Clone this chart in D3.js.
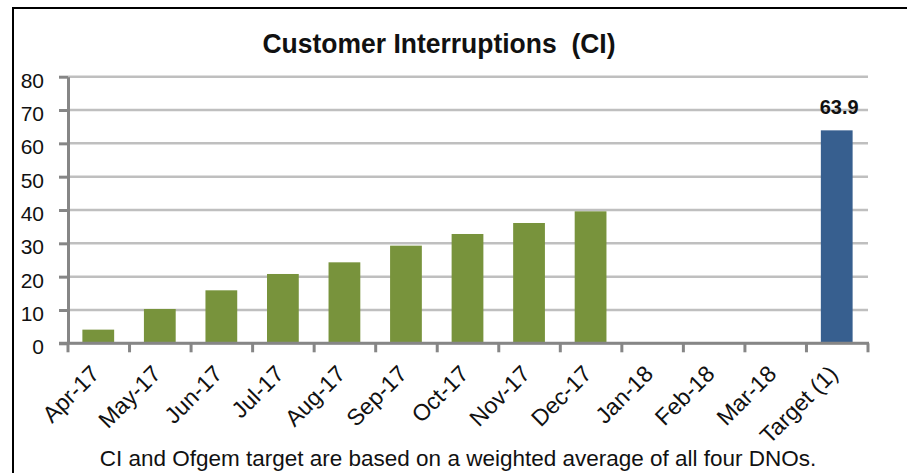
<!DOCTYPE html>
<html>
<head>
<meta charset="utf-8">
<script src="https://cdn.jsdelivr.net/npm/d3@7"></script>
<style>
  body { margin: 0; background: #fff; }
  text { font-family: "Liberation Sans", Arial, sans-serif; fill: #111; }
</style>
</head>
<body>
<svg width="907" height="473"></svg>
<script>
var months = ["Apr-17", "May-17", "Jun-17", "Jul-17", "Aug-17", "Sep-17", "Oct-17",
              "Nov-17", "Dec-17", "Jan-18", "Feb-18", "Mar-18", "Target (1)"];
var values = [4.1, 10.3, 15.9, 20.8, 24.3, 29.3, 32.8, 36.1, 39.6, null, null, null, 63.9];
var yTicks = [0, 10, 20, 30, 40, 50, 60, 70, 80];
var targetName = "Target (1)";

var svg = d3.select("svg"),
    width = +svg.attr("width"),
    height = +svg.attr("height");

var data = months.map(function(m, i) { return { month: m, value: values[i] }; });

var x = d3.scaleBand()
    .domain(months)
    .range([68, 868])
    .paddingInner(0.5)
    .paddingOuter(0.25);

var y = d3.scaleLinear()
    .domain([0, 80])
    .range([343.3, 76.7]);

// outer frame (only top and left edges are visible)
svg.append("path")
    .attr("d", "M13,473V8H907")
    .attr("fill", "none")
    .attr("stroke", "#000")
    .attr("stroke-width", 2);

// title
svg.append("text")
    .attr("x", 439)
    .attr("y", 53)
    .attr("text-anchor", "middle")
    .attr("textLength", 353)
    .attr("lengthAdjust", "spacingAndGlyphs")
    .style("font-family", "'Liberation Sans Narrow', 'Liberation Sans', sans-serif")
    .style("font-weight", "bold")
    .style("font-size", "27px")
    .style("white-space", "pre")
    .text("Customer Interruptions  (CI)");

// gridlines
svg.append("g")
    .attr("class", "grid")
    .selectAll("line")
    .data(yTicks)
    .enter().append("line")
    .attr("x1", 68)
    .attr("x2", 868)
    .attr("y1", function(d) { return y(d); })
    .attr("y2", function(d) { return y(d); })
    .attr("stroke", "#bfbfbf")
    .attr("stroke-width", 2.5);

// bars
svg.append("g")
    .attr("class", "bars")
    .selectAll("rect")
    .data(data.filter(function(d) { return d.value != null; }))
    .enter().append("rect")
    .attr("x", function(d) { return x(d.month) - 1; })
    .attr("width", x.bandwidth() + 1)
    .attr("y", function(d) { return y(d.value); })
    .attr("height", function(d) { return y(0) - y(d.value); })
    .attr("fill", function(d) { return d.month == targetName ? "#375f8f" : "#78933c"; });

// target label
var target = data[data.length - 1];
svg.append("text")
    .attr("x", x(target.month) + x.bandwidth() / 2 + 2)
    .attr("y", y(target.value) - 16)
    .attr("text-anchor", "middle")
    .style("font-weight", "bold")
    .style("font-size", "20px")
    .text(target.value.toFixed(1));

// y axis
var yAxis = svg.append("g")
    .attr("transform", "translate(68,0)")
    .call(d3.axisLeft(y).tickValues(yTicks).tickSize(9).tickSizeOuter(0).tickPadding(15));
yAxis.select(".domain").attr("stroke", "#868686").attr("stroke-width", 3);
yAxis.selectAll(".tick line").attr("stroke", "#868686").attr("stroke-width", 3);
yAxis.selectAll(".tick text")
    .attr("dy", "0.5em")
    .style("font-size", "21px")
    .attr("fill", "#111");

// x axis: line, ticks on band edges, rotated labels
var step = x.step();
var edges = months.map(function(m) { return x(m) - step * 0.25; });
edges.push(x.range()[1]);

svg.append("line")
    .attr("x1", 59)
    .attr("x2", 869)
    .attr("y1", y(0))
    .attr("y2", y(0))
    .attr("stroke", "#868686")
    .attr("stroke-width", 3);

svg.append("g")
    .selectAll("line")
    .data(edges)
    .enter().append("line")
    .attr("x1", function(d) { return d; })
    .attr("x2", function(d) { return d; })
    .attr("y1", y(0))
    .attr("y2", y(0) + 9)
    .attr("stroke", "#868686")
    .attr("stroke-width", 3);

var xAxis = svg.append("g")
    .attr("transform", "translate(0," + y(0) + ")")
    .call(d3.axisBottom(x).tickSize(0));
xAxis.select(".domain").remove();
xAxis.selectAll(".tick text")
    .attr("x", 0)
    .attr("y", 0)
    .attr("dy", 0)
    .attr("text-anchor", "end")
    .attr("transform", "translate(2,32) rotate(-45)")
    .style("font-size", "23px")
    .attr("fill", "#111");

// footnote
svg.append("text")
    .attr("x", 458)
    .attr("y", 466)
    .attr("text-anchor", "middle")
    .style("font-size", "22.5px")
    .text("CI and Ofgem target are based on a weighted average of all four DNOs.");
</script>
</body>
</html>
